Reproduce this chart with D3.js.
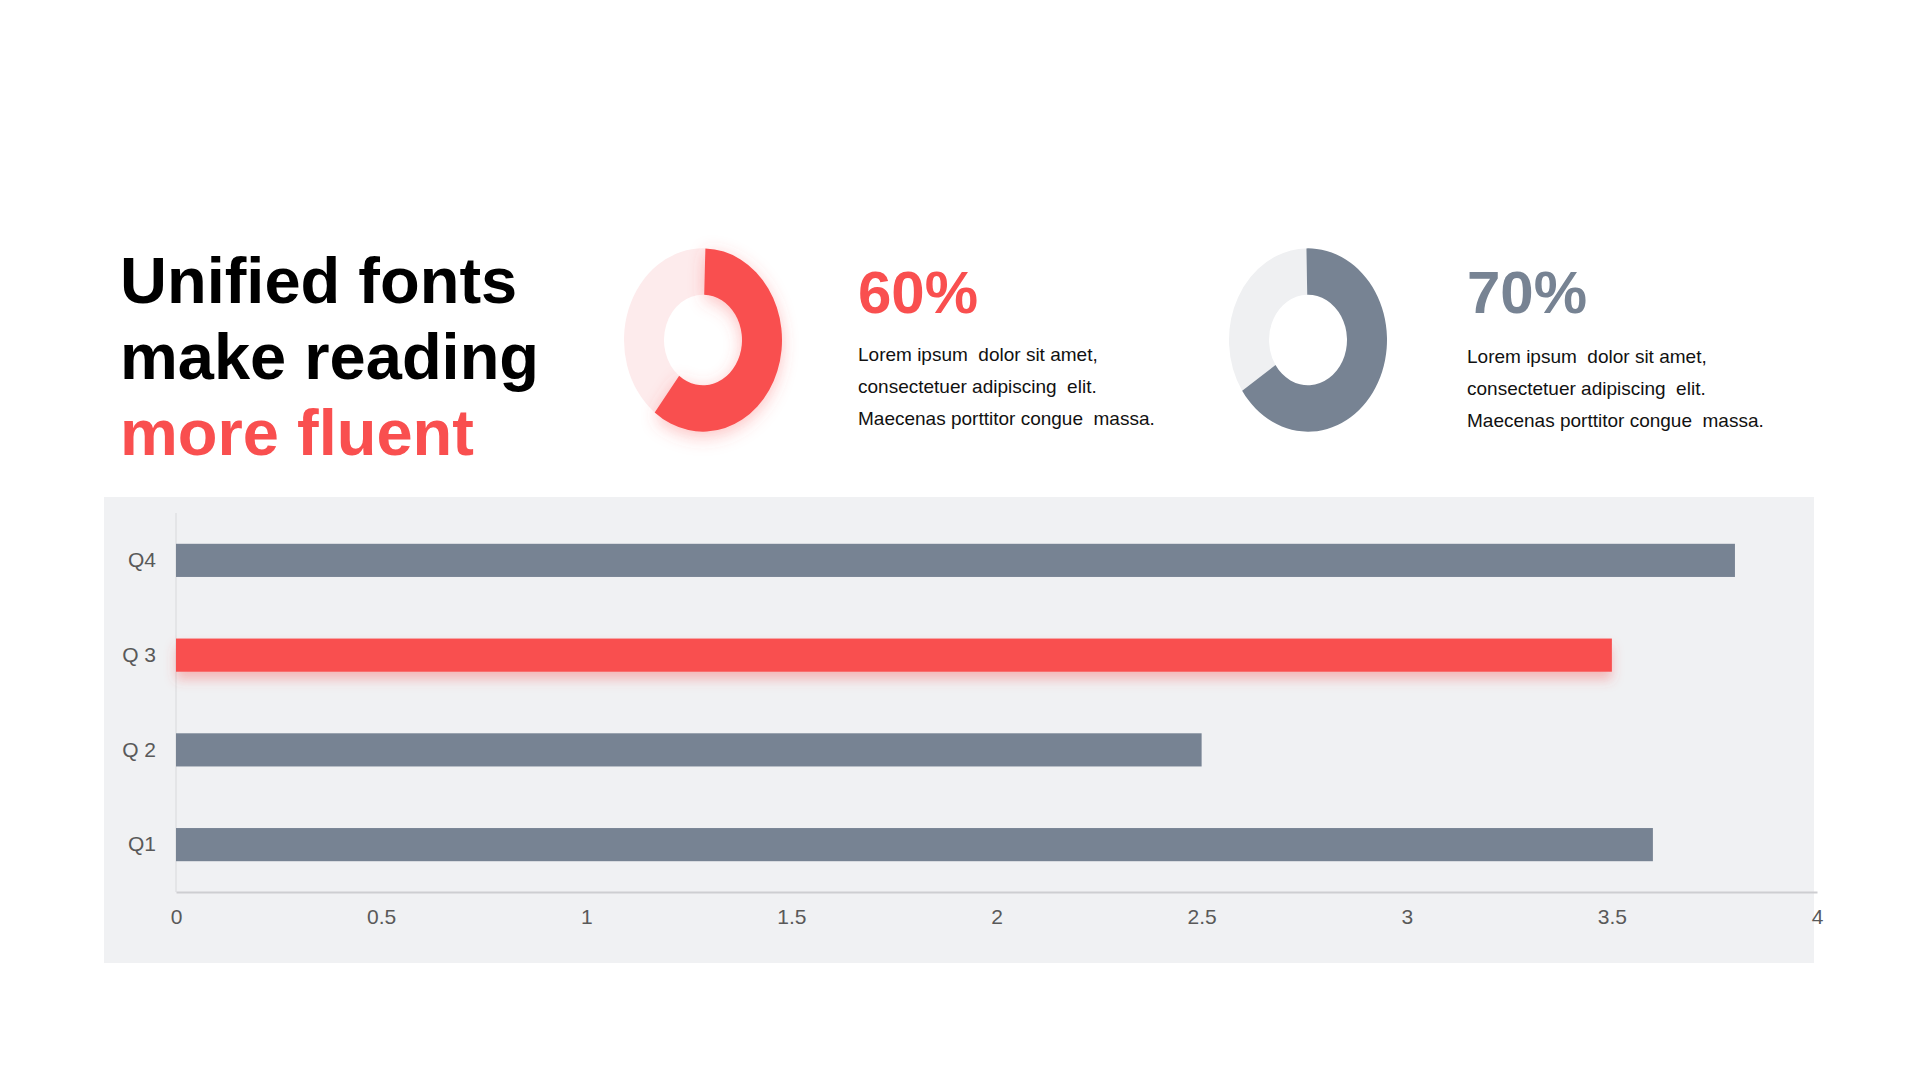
<!DOCTYPE html>
<html><head><meta charset="utf-8">
<script src="https://cdn.jsdelivr.net/npm/d3@7"></script>
<style>body{margin:0;background:#fff}svg{display:block;font-family:"Liberation Sans",Arial,sans-serif}</style>
</head><body><svg id="c" width="1920" height="1080"></svg>
<script>
const categories = ["Q4", "Q 3", "Q 2", "Q1"];
const values = [3.8, 3.5, 2.5, 3.6];
const xTicks = [0, 0.5, 1, 1.5, 2, 2.5, 3, 3.5, 4];
const titleLines = ["Unified fonts", "make reading", "more fluent"];
const donutLabels = ["60%", "70%"];
const donutShares = [60, 66];
const loremLines = ["Lorem ipsum  dolor sit amet,", "consectetuer adipiscing  elit.", "Maecenas porttitor congue  massa."];

const RED = "#F94F4F", GRAY = "#778393";
const svg = d3.select("#c");
const defs = svg.append("defs");
const f1 = defs.append("filter").attr("id","sh").attr("x","-20%").attr("y","-50%").attr("width","140%").attr("height","250%");
f1.append("feDropShadow").attr("dx",0).attr("dy",8).attr("stdDeviation",6).attr("flood-color",RED).attr("flood-opacity",0.35);
const f2 = defs.append("filter").attr("id","sh2").attr("x","-30%").attr("y","-30%").attr("width","160%").attr("height","160%");
f2.append("feDropShadow").attr("dx",0).attr("dy",4).attr("stdDeviation",8).attr("flood-color",RED).attr("flood-opacity",0.35);

// title
const tt = svg.append("g");
titleLines.forEach((t,i)=>{
  tt.append("text").attr("x",120).attr("y",303+i*76).attr("font-size",65).attr("font-weight","bold")
    .attr("fill", i===2?RED:"#000").text(t);
});

// donuts
const donuts = [
  {cx:703, cy:340, main:RED, bg:"#FDEBEC", tx:858, filter:"url(#sh2)"},
  {cx:1308, cy:340, main:GRAY, bg:"#EFF0F2", tx:1467, filter:null}
];
const pie = d3.pie().sort(null).value(d=>d);
const arc = d3.arc().innerRadius(39).outerRadius(79);
donuts.forEach((d,i)=>{
  const g = svg.append("g").attr("transform",`translate(${d.cx},${d.cy}) scale(1,1.16)`);
  const start = i===0 ? 0.03 : -0.02;
  const p = d3.pie().sort(null).value(v=>v).startAngle(start).endAngle(start+2*Math.PI)([donutShares[i], 100-donutShares[i]]);
  g.append("path").attr("d",arc(p[1])).attr("fill",d.bg);
  g.append("path").attr("d",arc(p[0])).attr("fill",d.main).attr("filter",d.filter);
  svg.append("text").attr("x",d.tx).attr("y",313).attr("font-size",60).attr("font-weight","bold").attr("fill",d.main).text(donutLabels[i]);
  loremLines.forEach((l,j)=>{
    svg.append("text").attr("x",d.tx).attr("y",(i===0?361:363)+j*32).attr("font-size",19).attr("fill","#111")
      .style("white-space","pre").attr("xml:space","preserve").text(l);
  });
});

// bar chart
svg.append("rect").attr("x",104).attr("y",497).attr("width",1710).attr("height",466).attr("fill","#F0F1F3");
const x = d3.scaleLinear().domain([0,4]).range([176,1817]);
const y = d3.scaleBand().domain(categories).range([513,892]).paddingInner(0.65).paddingOuter(0.325);
svg.append("line").attr("x1",176).attr("x2",176).attr("y1",513).attr("y2",892).attr("stroke","#E0E1E3").attr("stroke-width",1.5);
svg.selectAll(".bar").data(categories).enter().append("rect")
  .attr("x",x(0)).attr("y",d=>y(d)).attr("height",y.bandwidth())
  .attr("width",(d,i)=>x(values[i])-x(0))
  .attr("fill",(d,i)=>i===1?RED:GRAY)
  .attr("filter",(d,i)=>i===1?"url(#sh)":null);
const xa = svg.append("g").attr("transform","translate(0,892)").call(d3.axisBottom(x).tickValues(xTicks).tickFormat(d3.format("~g")).tickSize(0).tickPadding(17));
xa.select(".domain").attr("stroke","#CDCED1").attr("stroke-width",2);
xa.selectAll("text").attr("font-size",21).attr("fill","#595959").attr("font-family","Liberation Sans, Arial, sans-serif");
const ya = svg.append("g").attr("transform","translate(176,0)").call(d3.axisLeft(y).tickSize(0).tickPadding(20));
ya.select(".domain").remove();
ya.selectAll("text").attr("font-size",21).attr("fill","#595959").attr("font-family","Liberation Sans, Arial, sans-serif");
</script></body></html>
